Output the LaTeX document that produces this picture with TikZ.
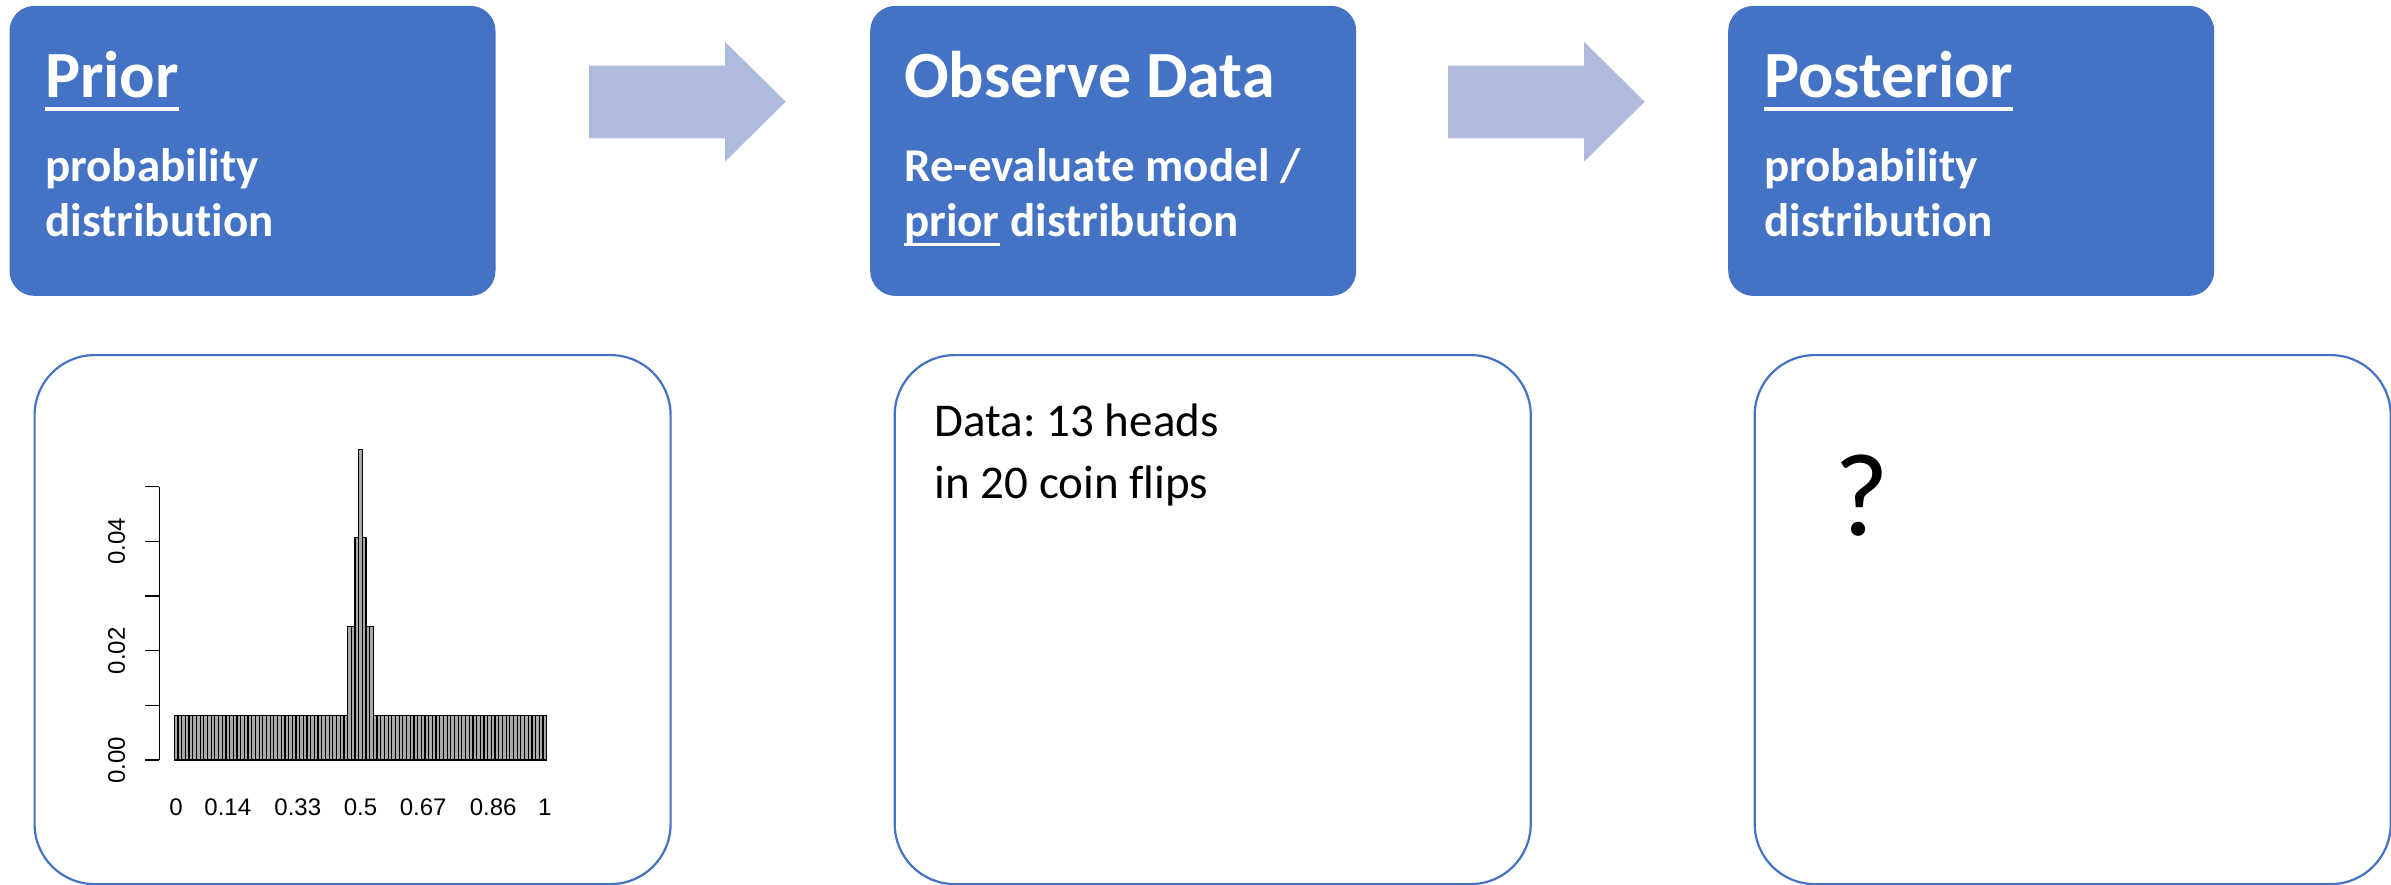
\documentclass[tikz,border=0pt]{standalone}
\usepackage{fontspec}
\setmainfont{Carlito}[Ligatures={TeX,NoCommon}]
\newfontfamily\plotfont{Liberation Sans}
\definecolor{boxblue}{RGB}{68,114,196}
\definecolor{arrowblue}{RGB}{175,187,221}
\definecolor{barfill}{RGB}{170,170,170}
\frenchspacing
% underline drawn as a rule below the baseline, as wide as the word
\newcommand\ulin[1]{\setbox0\hbox{#1}\rlap{\rule[-0.2em]{\wd0}{0.06em}}\box0\relax}
\begin{document}
\begin{tikzpicture}[x=1pt,y=-1pt,
  stage/.style={fill=boxblue, rounded corners=25pt, inner sep=0pt, minimum width=486pt, minimum height=290pt, anchor=north west},
  panel/.style={draw=boxblue, line width=2.2pt, rounded corners=60pt, inner sep=0pt, minimum width=636pt, minimum height=529pt, anchor=north west},
  flow/.style={fill=arrowblue},
  title/.style={text=white, inner sep=0pt, anchor=base west, font=\fontsize{66}{70}\selectfont\bfseries},
  sub/.style={text=white, inner sep=0pt, anchor=base west, font=\fontsize{47}{55}\selectfont\bfseries},
  note/.style={text=black, inner sep=0pt, anchor=base west, font=\fontsize{47}{55}\selectfont},
  bar/.style={fill=barfill, draw=black, line width=1.2pt},
  axisline/.style={draw=black, line width=1.3pt},
  ticklabel/.style={inner sep=0pt, font=\plotfont\fontsize{24}{24}\selectfont}
]
\useasboundingbox (0,0) rectangle (2391,885);

% top stage boxes
\node[stage] (prior) at (9.3,5.7) {};
\node[stage] (observe) at (870,5.7) {};
\node[stage] (posterior) at (1728,5.7) {};

\node[title] (prior-title) at (45,97.7) {\ulin{Prior}};
\node[sub] (prior-l1) at (45,181.7) {probability};
\node[sub] (prior-l2) at (45,236.7) {distribution};

\node[title] (observe-title) at (904,97.7) {Observe Data};
\node[sub] (observe-l1) at (904,181.7) {Re-evaluate model /};
\node[sub] (observe-l2) at (904,236.7) {\ulin{prior} distribution};

\node[title] (posterior-title) at (1764,97.7) {\ulin{Posterior}};
\node[sub] (posterior-l1) at (1764,181.7) {probability};
\node[sub] (posterior-l2) at (1764,236.7) {distribution};

% block arrows between the stages
\fill[flow] (589,65.7) -- (725,65.7) -- (725,41.7) -- (785.7,101.7) -- (725,161.7) -- (725,138.3) -- (589,138.3) -- cycle;
\fill[flow] (1448,65.7) -- (1584,65.7) -- (1584,41.7) -- (1644.7,101.7) -- (1584,161.7) -- (1584,138.3) -- (1448,138.3) -- cycle;

% lower panels
\node[panel] (prior-panel) at (33.5,354) {};
\node[panel] (data-panel) at (893.6,354) {};
\node[panel] (post-panel) at (1753.6,354) {};

\node[note] (data-l1) at (934.6,436.7) {Data: 13 heads};
\node[note] (data-l2) at (934.6,498.3) {in 20 coin flips};

\node[inner sep=0pt, anchor=base, font=\fontsize{118}{118}\selectfont] (unknown) at (1862,535) {?};

% prior histogram: 101 bars over [0,1]
\foreach \i in {0,...,100}{
  \def\h{44.7}
  \ifnum\i=47 \def\h{133.3}\fi
  \ifnum\i=48 \def\h{133.3}\fi
  \ifnum\i=52 \def\h{133.3}\fi
  \ifnum\i=53 \def\h{133.3}\fi
  \ifnum\i=49 \def\h{222.3}\fi
  \ifnum\i=51 \def\h{222.3}\fi
  \ifnum\i=50 \def\h{310.7}\fi
  \draw[bar] ({174.3+3.687*\i},760) rectangle ({174.3+3.687*(\i+1)},{760-\h});
}

% y axis
\draw[axisline] (159.3,486.7) -- (159.3,760);
\foreach \k in {0,...,5}{
  \draw[axisline] (145,{760-54.67*\k}) -- (159.3,{760-54.67*\k});
}
\node[ticklabel, rotate=90] (y0) at (116.7,760) {0.00};
\node[ticklabel, rotate=90] (y2) at (116.7,650.7) {0.02};
\node[ticklabel, rotate=90] (y4) at (116.7,541.3) {0.04};

% x labels
\foreach \xv/\lab/\nm in {176.1/0/x0, 227.8/0.14/x14, 297.8/0.33/x33, 360.5/0.5/x50, 423.2/0.67/x67, 493.2/0.86/x86, 544.8/1/x100}{
  \node[ticklabel, anchor=base] (\nm) at (\xv,815) {\lab};
}
\end{tikzpicture}
\end{document}
